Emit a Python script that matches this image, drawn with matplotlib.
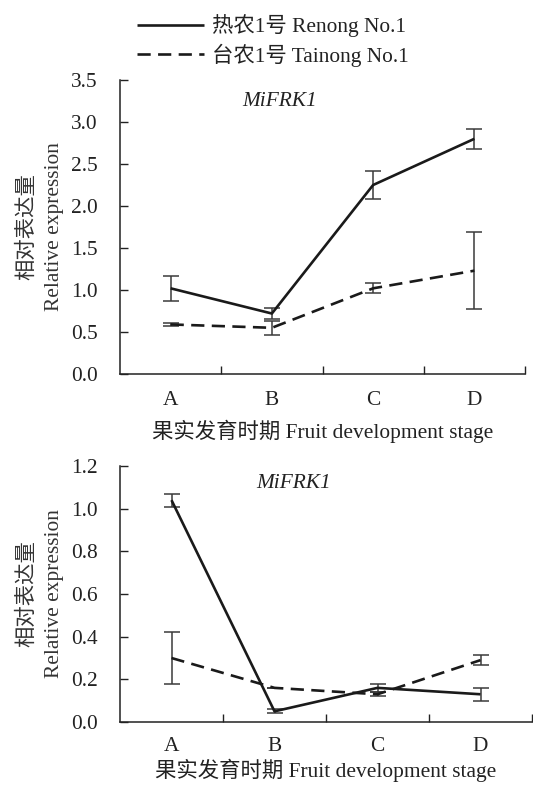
import matplotlib
matplotlib.use("Agg")
import matplotlib.pyplot as plt
import numpy as np

plt.rcParams['font.family'] = ['Liberation Serif', 'Noto Sans CJK SC']

stages = ['A', 'B', 'C', 'D']
series_names = ['热农1号 Renong No.1', '台农1号 Tainong No.1']

# Panel 1
p1_renong = [1.02, 0.72, 2.25, 2.80]
p1_renong_err = [0.15, 0.07, 0.17, 0.12]
p1_tainong = [0.59, 0.55, 1.02, 1.23]
p1_tainong_err = [0.02, 0.08, 0.06, 0.46]

# Panel 2
p2_renong = [1.04, 0.05, 0.16, 0.13]
p2_renong_err = [0.03, 0.01, 0.02, 0.03]
p2_tainong = [0.30, 0.16, 0.13, 0.29]
p2_tainong_err = [0.12, 0.0, 0.01, 0.025]

gene = 'MiFRK1'
xlabel = '果实发育时期 Fruit development stage'
ylabel = '相对表达量\nRelative expression'

W, H = 533, 787
fig = plt.figure(figsize=(W / 100, H / 100), dpi=100)

ax1 = fig.add_axes([120 / W, (H - 374) / H, 405 / W, 294 / H])
ax2 = fig.add_axes([120 / W, (H - 722) / H, 412 / W, 256 / H])

LC = '#1a1a1a'
EC = '#3a3a3a'
FS = 15.4


def draw(ax, ren, ren_e, tai, tai_e, ylim, yticks, title_xy, xlpad, xtpad):
    x = np.arange(len(stages))
    l1, = ax.plot(x, ren, color=LC, lw=1.9, solid_capstyle='butt', zorder=3)
    l2, = ax.plot(x, tai, color=LC, lw=1.9, dashes=(5, 2.8), zorder=3)
    ax.errorbar(x, ren, yerr=ren_e, fmt='none', ecolor=EC, elinewidth=1.1,
                capsize=6, capthick=1.1, zorder=2)
    ax.errorbar(x, tai, yerr=tai_e, fmt='none', ecolor=EC, elinewidth=1.1,
                capsize=6, capthick=1.1, zorder=2)
    ax.set_xlim(-0.5, 3.5)
    ax.set_ylim(*ylim)
    ax.set_yticks(yticks)
    ax.set_yticklabels([f'{v:.1f}' for v in yticks])
    ax.set_xticks(x)
    ax.set_xticklabels(stages)
    ax.set_xticks(np.arange(0.5, 4.0, 1.0), minor=True)
    ax.tick_params(axis='x', which='major', length=0, pad=xtpad, labelsize=FS, colors='#222')
    ax.tick_params(axis='x', which='minor', direction='in', length=6, width=1, color='#222')
    ax.tick_params(axis='y', direction='in', length=6, width=1, pad=16, labelsize=FS, colors='#222')
    for s in ['top', 'right']:
        ax.spines[s].set_visible(False)
    for s in ['left', 'bottom']:
        ax.spines[s].set_linewidth(1.1)
        ax.spines[s].set_color('#222')
    ax.set_xlabel(xlabel, fontsize=FS, color='#222', labelpad=xlpad)
    ax.set_ylabel(ylabel, fontsize=FS, color='#333', labelpad=5, linespacing=1.55)
    ax.text(title_xy[0], title_xy[1], gene, fontsize=FS, style='italic',
            ha='center', va='center', color='#222')
    return l1, l2


l1, l2 = draw(ax1, p1_renong, p1_renong_err, p1_tainong, p1_tainong_err,
              (0, 3.5), np.arange(0, 3.51, 0.5), (1.08, 3.24), 7, 12)
draw(ax2, p2_renong, p2_renong_err, p2_tainong, p2_tainong_err,
     (0, 1.2), np.arange(0, 1.21, 0.2), (1.19, 1.12), 2, 11)

fig.legend([l1, l2], series_names, loc='upper left',
           bbox_to_anchor=(118 / W, 1 + 5 / H), frameon=False, fontsize=FS,
           handlelength=3.1, handletextpad=0.4, labelspacing=0.3,
           labelcolor='#222')

fig.savefig('out.png', dpi=100)
